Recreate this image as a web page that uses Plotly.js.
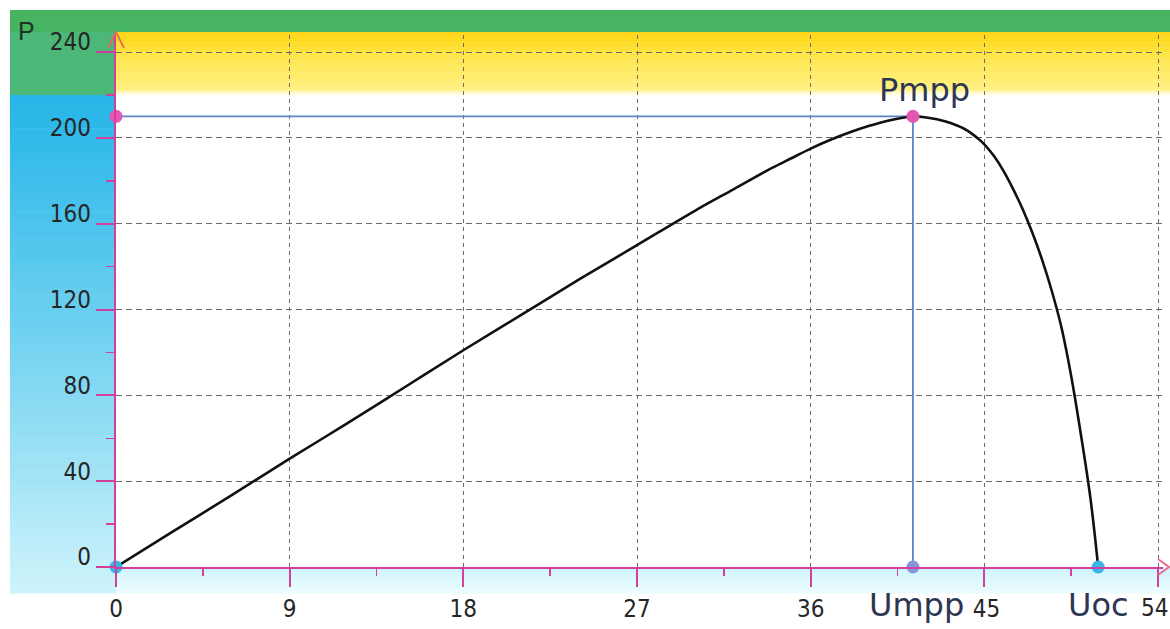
<!DOCTYPE html>
<html><head><meta charset="utf-8">
<script src="https://cdn.plot.ly/plotly-3.0.1.min.js"></script>
<style>html,body{margin:0;padding:0;background:#fff}#chart{width:1170px;height:629px}</style>
</head><body><div id="chart"></div>
<script>
// ---- data ----
const voltage = [0, 3, 6, 9, 12, 15, 18, 21, 24, 27, 30, 32, 34, 35, 36, 37, 38, 39, 40, 41, 41.3, 42, 43, 44, 44.7, 45, 45.5, 46, 46.5, 47, 47.5, 48, 48.5, 49, 49.5, 50, 50.5, 50.9];
const power   = [0, 16.8, 33.5, 50.5, 67, 84, 101, 117.5, 134, 150, 166, 176, 186, 190.5, 195, 199, 202.5, 205.5, 208, 209.7, 210, 209.5, 207.6, 204, 199.5, 197, 191.5, 184.5, 176, 166.5, 155.5, 143, 128.5, 111.5, 89, 62, 32, 0];
const Umpp = 41.3;
const Pmpp = 210;
const Uoc = 50.9;
const xTickVals = [0, 9, 18, 27, 36, 45, 54];
const xTickText = ['0', '9', '18', '27', '36', '\u200945', ''];
const xLastTick = 54, xLastText = '54';
const xMinorVals = [4.5, 13.5, 22.5, 31.5, 40.5, 49.5];
const yTickVals = [0, 40, 80, 120, 160, 200, 240];
const yTickText = ['0', '40', '80', '120', '160', '200', '240'];
const yMinorVals = [20, 60, 100, 140, 180, 220];
const labelP = 'P', labelPmpp = 'Pmpp', labelUmpp = 'Umpp', labelUoc = 'Uoc';

// ---- geometry helpers for decoration (pixel -> paper) ----
const W = 1170, H = 629, M = {l: 116, r: 7, t: 35, b: 62};
const pw = W - M.l - M.r, ph = H - M.t - M.b;
const px = x => (x - M.l) / pw;
const py = y => (H - M.b - y) / ph;
const xMax = 54 * pw / 1042;
const yMax = 240 * ph / 515;

const AXIS = '#d2409c';
const GRID = '#6c6c6c';
const TICKFONT = {family: 'DejaVu Sans Condensed, Liberation Sans Narrow, sans-serif', size: 24, color: '#262626'};
const BIGFONT = {family: 'DejaVu Sans, sans-serif', size: 32, color: '#2c3652'};

function lerp(a, b, t) { return Math.round(a + (b - a) * t); }
function rgb(c) { return 'rgb(' + c.join(',') + ')'; }
function mix(c1, c2, t) { return [lerp(c1[0], c2[0], t), lerp(c1[1], c2[1], t), lerp(c1[2], c2[2], t)]; }

const shapes = [];
function rect(x0, y0, x1, y1, color) {
  shapes.push({type: 'rect', xref: 'paper', yref: 'paper', layer: 'below',
    x0: px(x0), x1: px(x1), y0: py(y1), y1: py(y0), fillcolor: color, line: {width: 0}});
}
// top green band + left green block
rect(10, 10, 1170, 32, '#47b462');
rect(10, 32, 116, 95, '#4cb878');
// left blue gradient strip
const nb = 60;
for (let i = 0; i < nb; i++) {
  const y0 = 95 + (593 - 95) * i / nb, y1 = 95 + (593 - 95) * (i + 1) / nb + 0.6;
  const t = i / (nb - 1);
  rect(10, y0, 116, y1, rgb(mix([40, 182, 232], [205, 243, 251], Math.pow(t, 1.1))));
}
// bottom light cyan band
const nbb = 12;
for (let i = 0; i < nbb; i++) {
  const y0 = 567 + (593 - 567) * i / nbb, y1 = 567 + (593 - 567) * (i + 1) / nbb + 0.6;
  rect(116, y0, 1170, y1, rgb(mix([206, 244, 251], [236, 252, 254], i / (nbb - 1))));
}
// yellow band inside plot
const ny = 30;
for (let i = 0; i < ny; i++) {
  const y0 = 32 + (97 - 32) * i / ny, y1 = 32 + (97 - 32) * (i + 1) / ny + 0.6;
  const t = i / (ny - 1);
  let c;
  if (t < 0.3) c = mix([255, 214, 22], [255, 226, 60], t / 0.3);
  else if (t < 0.9) c = mix([255, 228, 70], [255, 240, 130], (t - 0.3) / 0.6);
  else c = mix([255, 244, 160], [255, 255, 250], (t - 0.9) / 0.1);
  rect(116, y0, 1170, y1, rgb(c));
}
// axis arrows
shapes.push({type: 'path', xref: 'paper', yref: 'paper', layer: 'above',
  path: 'M' + px(108) + ',' + py(48) + ' L' + px(116) + ',' + py(32) + ' L' + px(124) + ',' + py(48),
  line: {color: '#e46a5a', width: 1.8}});
shapes.push({type: 'path', xref: 'paper', yref: 'paper', layer: 'above',
  path: 'M' + px(1158) + ',' + py(559) + ' L' + px(1169) + ',' + py(567) + ' L' + px(1158) + ',' + py(575),
  line: {color: '#e46a8a', width: 1.8}});

const traces = [
  {x: [0, Umpp, Umpp], y: [Pmpp, Pmpp, 0], mode: 'lines', line: {color: '#5a86c6', width: 1.8},
   hoverinfo: 'skip', showlegend: false},
  {x: voltage, y: power, mode: 'lines', line: {color: '#111111', width: 2.6, shape: 'spline', smoothing: 1},
   showlegend: false},
  {x: [0, Umpp, 0, Umpp, Uoc], y: [Pmpp, Pmpp, 0, 0, 0], mode: 'markers', cliponaxis: false,
   marker: {size: 13, color: ['#e256b4', '#e256b4', '#35b6e6', '#8796dc', '#35b6e6']}, showlegend: false}
];

const layout = {
  width: W, height: H,
  margin: M,
  paper_bgcolor: '#ffffff', plot_bgcolor: 'rgba(0,0,0,0)',
  showlegend: false,
  xaxis: {
    range: [0, xMax], tickmode: 'array', tickvals: xTickVals, ticktext: xTickText,
    ticks: 'outside', ticklen: 18, tickwidth: 2, tickcolor: AXIS,
    showline: true, linecolor: AXIS, linewidth: 2.2,
    showgrid: true, gridcolor: GRID, griddash: '4px,4px', gridwidth: 1,
    zeroline: false, tickfont: TICKFONT, ticklabelstandoff: 1,
    minor: {tickmode: 'array', tickvals: xMinorVals, ticks: 'outside', ticklen: 7, tickwidth: 1.5, tickcolor: AXIS, showgrid: false}
  },
  yaxis: {
    range: [0, yMax], tickmode: 'array', tickvals: yTickVals, ticktext: yTickText,
    ticks: 'outside', ticklen: 18, tickwidth: 2, tickcolor: AXIS,
    showline: true, linecolor: AXIS, linewidth: 2.2,
    showgrid: true, gridcolor: GRID, griddash: '6px,4px', gridwidth: 1,
    zeroline: false, tickfont: TICKFONT, ticklabelshift: -10, ticklabelstandoff: 0, ticklabeloverflow: 'allow',
    minor: {tickmode: 'array', tickvals: yMinorVals, ticks: 'outside', ticklen: 8, tickwidth: 1.5, tickcolor: AXIS, showgrid: false}
  },
  shapes: shapes,
  annotations: [
    {xref: 'paper', yref: 'paper', x: px(26), y: py(31), xanchor: 'center', yanchor: 'middle', text: labelP, showarrow: false,
     font: {family: 'Liberation Sans, Arial, sans-serif', size: 25, color: '#1f3325'}},
    {x: xLastTick, yref: 'paper', y: py(608), text: xLastText, showarrow: false, xanchor: 'center', yanchor: 'middle',
     xshift: -4, borderpad: 0, font: TICKFONT},
    {x: Umpp, y: Pmpp, text: labelPmpp, showarrow: false, xanchor: 'center', yanchor: 'bottom',
     xshift: 12, yshift: 5, font: BIGFONT},
    {x: Umpp, y: 0, text: labelUmpp, showarrow: false, xanchor: 'center', yanchor: 'top',
     xshift: 4, yshift: -17, font: BIGFONT},
    {x: Uoc, y: 0, text: labelUoc, showarrow: false, xanchor: 'center', yanchor: 'top',
     xshift: 0, yshift: -17, font: BIGFONT}
  ]
};

Plotly.newPlot('chart', traces, layout, {displayModeBar: false, staticPlot: true});
</script>
</body></html>
